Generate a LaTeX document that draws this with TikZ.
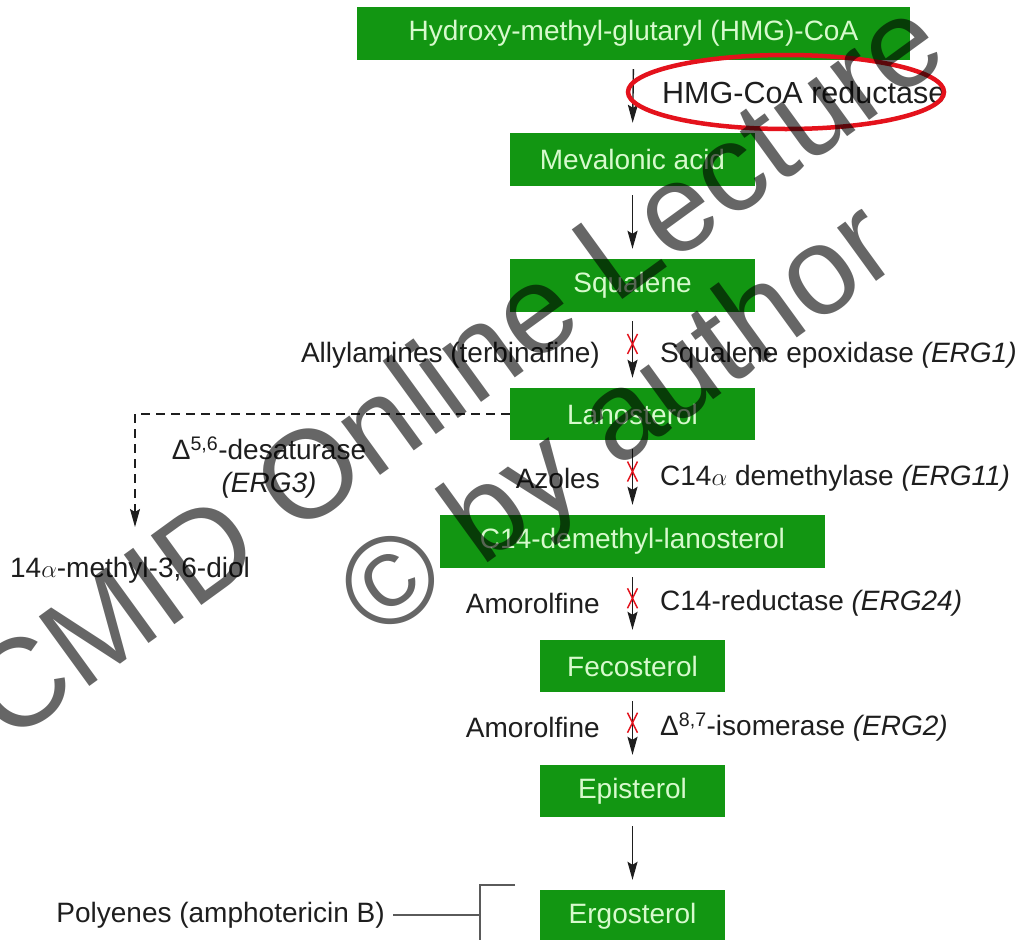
\documentclass[tikz,border=0pt]{standalone}
\usepackage{fontspec}
\setmainfont{Liberation Sans}
\usetikzlibrary{arrows.meta,shapes.geometric,calc}
\definecolor{boxgreen}{RGB}{18,150,18}
\definecolor{boxtext}{RGB}{215,250,205}
\definecolor{ink}{RGB}{30,30,30}
\definecolor{markred}{RGB}{228,18,28}
\definecolor{linegray}{RGB}{90,90,90}
\begin{document}
\begin{tikzpicture}[x=1pt,y=-1pt,
  box/.style={fill=boxgreen, text=boxtext, minimum height=53pt, inner sep=0pt, font=\fontsize{28}{33}\selectfont},
  lbl/.style={text=ink, inner sep=0pt, font=\fontsize{28}{33}\selectfont},
  tip/.style={-{Stealth[length=18pt,width=10pt,inset=3pt]}},
  arr/.style={draw=ink, line width=1.4pt, tip, shorten <=9pt, shorten >=10pt},
  xm/.style={draw=markred, line width=1.4pt},
  dsh/.style={draw=ink, line width=1.2pt, dash pattern=on 9pt off 6pt},
  wm/.style={text=black, opacity=0.6, inner sep=0pt, font=\fontsize{125}{130}\selectfont, rotate=36, anchor=base west}
]
\useasboundingbox (0,0) rectangle (1015,940);
\fill[white] (0,0) rectangle (1015,940);

% boxes
\node[box, minimum width=553pt] (hmg) at (633.5,33.5) {Hydroxy-methyl-glutaryl (HMG)-CoA};
\node[box, minimum width=245pt] (mev) at (632.5,159.5) {Mevalonic acid};
\node[box, minimum width=245pt] (sq)  at (632.5,285.5) {Squalene};
\node[box, minimum width=245pt, minimum height=52pt] (lan) at (632.5,414) {Lanosterol};
\node[box, minimum width=385pt] (c14) at (632.5,541.5) {C14-demethyl-lanosterol};
\node[box, minimum width=185pt, minimum height=52pt] (fec) at (632.5,666) {Fecosterol};
\node[box, minimum width=185pt, minimum height=52pt] (epi) at (632.5,791) {Episterol};
\node[box, minimum width=185pt, minimum height=52pt] (erg) at (632.5,916) {Ergosterol};

% arrows
\draw[arr] (hmg.south) -- (mev.north);
\draw[arr] (mev.south) -- (sq.north);
\draw[arr] (sq.south) -- coordinate[pos=0.42] (x1) (lan.north);
\draw[arr] (lan.south) -- coordinate[pos=0.42] (x2) (c14.north);
\draw[arr] (c14.south) -- coordinate[pos=0.42] (x3) (fec.north);
\draw[arr] (fec.south) -- coordinate[pos=0.42] (x4) (epi.north);
\draw[arr] (epi.south) -- (erg.north);

% red crosses on the blocked steps
\foreach \c in {x1,x2,x3,x4}{
  \draw[xm] ($(\c)+(-5,-10)$) -- ($(\c)+(5,10)$);
  \draw[xm] ($(\c)+(5,-10)$) -- ($(\c)+(-5,10)$);
}

% labels
\node[lbl, anchor=west, font=\fontsize{30.5}{34}\selectfont] (red) at (662,93) {HMG-CoA reductase};
\node[draw=markred, line width=4.5pt, ellipse, minimum width=316pt, minimum height=74pt] (ring) at (786,92) {};
\node[lbl, anchor=east] (ally) at (600,355) {Allylamines (terbinafine)};
\node[lbl, anchor=west] (sqe) at (660,355) {Squalene epoxidase \textit{(ERG1)}};
\node[lbl, anchor=east] (azo) at (600,478) {Azoles};
\node[lbl, anchor=west] (dem) at (660,478) {C14$\alpha$ demethylase \textit{(ERG11)}};
\node[lbl, anchor=east] (amo1) at (600,603) {Amorolfine};
\node[lbl, anchor=west] (c14r) at (660,603) {C14-reductase \textit{(ERG24)}};
\node[lbl, anchor=east] (amo2) at (600,727) {Amorolfine};
\node[lbl, anchor=west] (iso) at (660,727) {Δ\textsuperscript{8,7}-isomerase \textit{(ERG2)}};

% side branch
\node[lbl] (diol) at (130,570) {14$\alpha$-methyl-3,6-diol};
\node[lbl, align=center] (desat) at (269,468) {Δ\textsuperscript{5,6}-desaturase\\\textit{(ERG3)}};
\coordinate (dend) at (135,527);
\draw[dsh, tip] (lan.west) -| (dend);

% polyenes
\node[lbl, anchor=east] (poly) at (385,915) {Polyenes (amphotericin B)};
\coordinate (bk) at (480,915);
\draw[linegray, line width=1.3pt] ([xshift=8pt]poly.east) -- (bk);
\draw[linegray, line width=1.3pt] (515,885) -- (480,885) -- (480,945);

% watermark
\node[wm] (wm1) at (8,746) {CMID Online Lecture};
\node[wm] (wm2) at (378.7,642.6) {© by author};
\end{tikzpicture}
\end{document}
